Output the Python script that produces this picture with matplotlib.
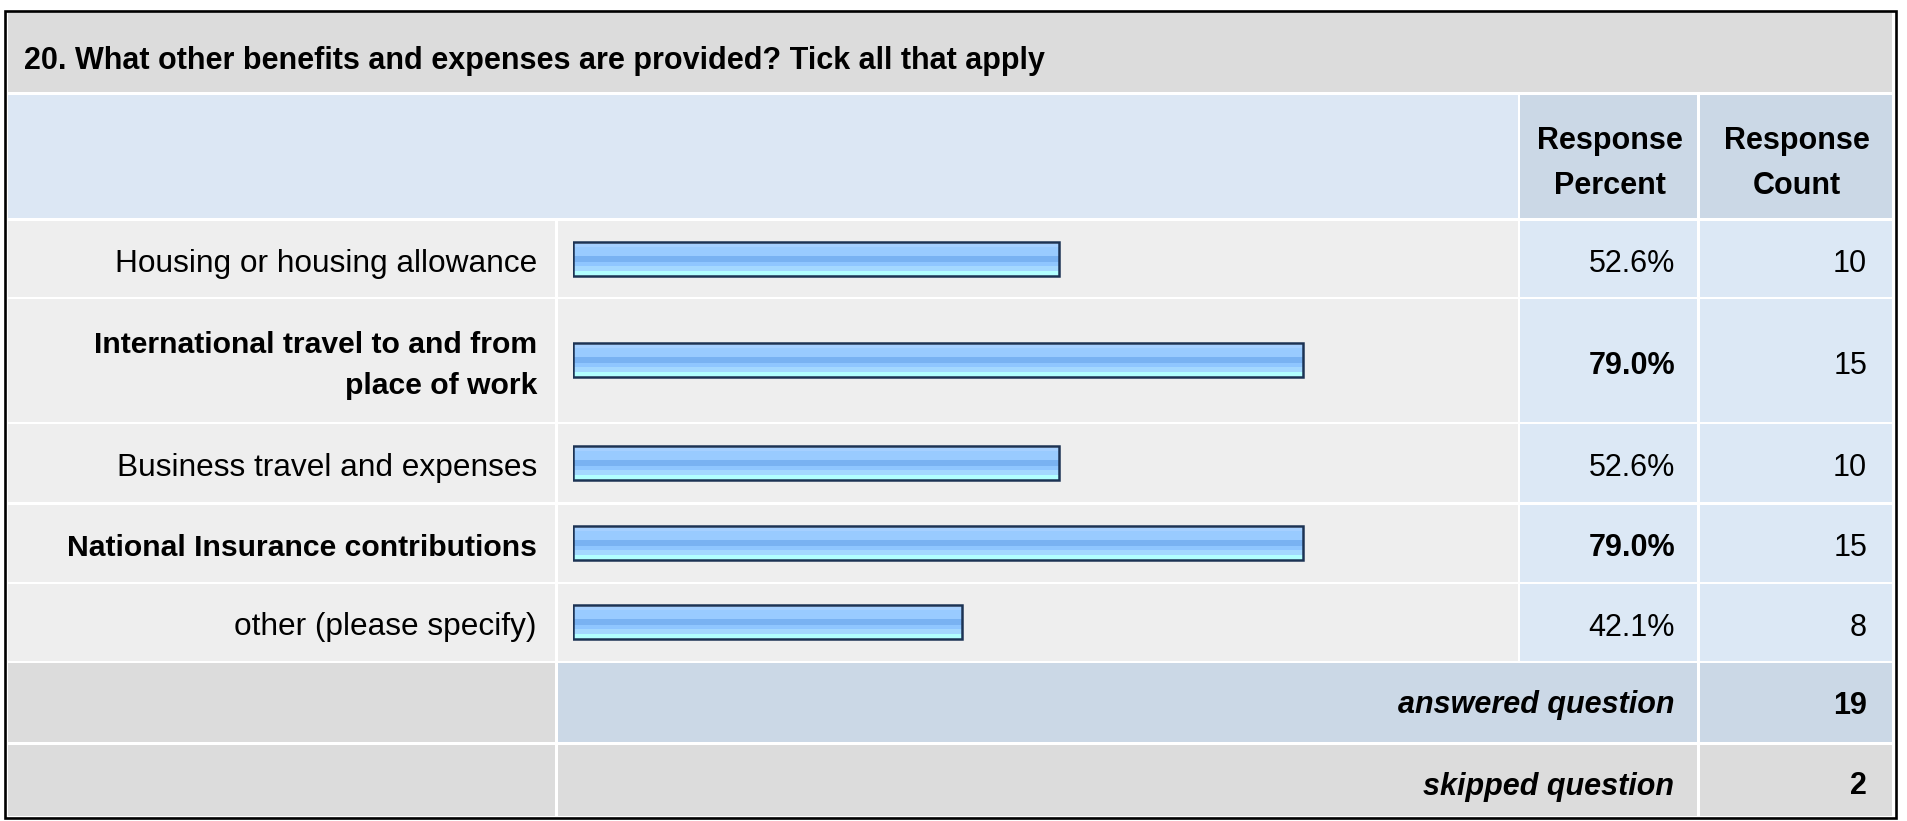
"""
Survey question summary table (response percent / count) drawn with matplotlib.
"""

import numpy as np
import matplotlib
matplotlib.use("Agg")
import matplotlib.pyplot as plt
from matplotlib.colors import to_rgb
from matplotlib.patches import Rectangle

plt.rcParams['font.family'] = ['Liberation Sans', 'DejaVu Sans']

# --- data -------------------------------------------------------------------
title = "20. What other benefits and expenses are provided? Tick all that apply"
choices = [
    "Housing or housing allowance",
    "International travel to and from\nplace of work",
    "Business travel and expenses",
    "National Insurance contributions",
    "other (please specify)",
]
response_pct = [52.6, 79.0, 52.6, 79.0, 42.1]
response_cnt = [10, 15, 10, 15, 8]
col_headers = ["Response\nPercent", "Response\nCount"]
footer_labels = ["answered question", "skipped question"]
footer_counts = [19, 2]

# --- layout (pixels, y down) -------------------------------------------------
W, H = 1907, 821
COLS = [(8, 555), (558, 1518), (1520, 1697), (1700, 1892)]
TITLE_Y = (12, 92)
HEAD_Y = (95, 218)
ROW_Y = [(221, 297), (299, 422), (424, 502), (505, 582), (584, 661)]
FOOT_Y = [(663, 742), (745, 816)]
BAR_X0, BAR_X100 = 573, 1497
BAR_H = 34
TXT_DY = 5   # matplotlib centres on the full line box, nudge glyphs down

GRAY = '#dcdcdc'
HEAD_BLUE = '#dce7f4'
DARK_BLUE = '#cbd8e6'
ROW_GRAY = '#eeeeee'
CELL_BLUE = '#dce8f5'
EDGE = '#1c3354'
STRIPES = [('#c9e3ff', 2), ('#a6d0ff', 3), ('#99cbff', 8), ('#79b2f2', 6),
           ('#8fc6ff', 4), ('#a4d8ff', 4), ('#b2ffff', 5)]
FS = 22
FS_REG = 22.8
FS_BOLD = 21.7

fig = plt.figure(figsize=(W / 100, H / 100), dpi=100)
ax = fig.add_axes([0, 0, 1, 1])
ax.set_xlim(0, W)
ax.set_ylim(H, 0)
ax.axis('off')


def cell(x0, x1, y0, y1, color):
    ax.add_patch(Rectangle((x0, y0), x1 - x0, y1 - y0, facecolor=color, edgecolor='none'))


# title band
cell(COLS[0][0], COLS[3][1], *TITLE_Y, GRAY)
ax.text(24, sum(TITLE_Y) / 2 + 9, title, fontsize=FS, fontweight='bold', ha='left', va='center')

# header band
cell(COLS[0][0], COLS[1][1], *HEAD_Y, HEAD_BLUE)
for (x0, x1), head in zip(COLS[2:], col_headers):
    cell(x0, x1, *HEAD_Y, DARK_BLUE)
    ax.text((x0 + x1) / 2 + 1, sum(HEAD_Y) / 2 + 7, head, fontsize=FS, fontweight='bold',
            ha='center', va='center', linespacing=1.68)

# answer rows
top = max(response_pct)
row_centers = []
for (y0, y1), label, pct, cnt in zip(ROW_Y, choices, response_pct, response_cnt):
    yc = (y0 + y1) / 2
    row_centers.append(yc)
    bold = pct == top
    weight = 'bold' if bold else 'normal'
    cell(*COLS[0], y0, y1, ROW_GRAY)
    cell(*COLS[1], y0, y1, ROW_GRAY)
    cell(*COLS[2], y0, y1, CELL_BLUE)
    cell(*COLS[3], y0, y1, CELL_BLUE)
    ax.text(537, yc + TXT_DY, label, fontsize=FS_BOLD if bold else FS_REG, fontweight=weight,
            ha='right', va='center', linespacing=1.6)
    ax.text(1675, yc + TXT_DY, f"{pct:.1f}%", fontsize=FS, fontweight=weight,
            ha='right', va='center')
    ax.text(1867, yc + TXT_DY, str(cnt), fontsize=FS, ha='right', va='center')

# footer rows
for i, ((y0, y1), label, cnt) in enumerate(zip(FOOT_Y, footer_labels, footer_counts)):
    yc = (y0 + y1) / 2 + (3 if i == 0 else 6)
    shade = DARK_BLUE if i == 0 else GRAY
    cell(*COLS[0], y0, y1, GRAY)
    cell(COLS[1][0], COLS[2][1], y0, y1, shade)
    cell(*COLS[3], y0, y1, shade)
    ax.text(1674, yc, label, fontsize=FS, fontweight='bold', fontstyle='italic',
            ha='right', va='center')
    ax.text(1867, yc, str(cnt), fontsize=FS, fontweight='bold', ha='right', va='center')

# outer frame
ax.add_patch(Rectangle((5, 11), 1891, 807, facecolor='none', edgecolor='black', linewidth=1.9))

# bars: separate axes, 0..100 % mapped onto the bar column
bx = fig.add_axes([BAR_X0 / W, 0, (BAR_X100 - BAR_X0) / W, 1])
bx.set_xlim(0, 100)
bx.set_ylim(H, 0)
bx.axis('off')
grad = np.array([to_rgb(c) for c, n in STRIPES for _ in range(n)])[:, None, :]
for yc, pct in zip(row_centers, response_pct):
    bx.imshow(grad, extent=(0, pct, yc + BAR_H / 2, yc - BAR_H / 2), aspect='auto',
              interpolation='nearest', zorder=2)
bx.barh(row_centers, response_pct, height=BAR_H, left=0, facecolor='none',
        edgecolor=EDGE, linewidth=1.8, zorder=3)
bx.set_xlim(0, 100)
bx.set_ylim(H, 0)

fig.savefig('out.png', dpi=100)
